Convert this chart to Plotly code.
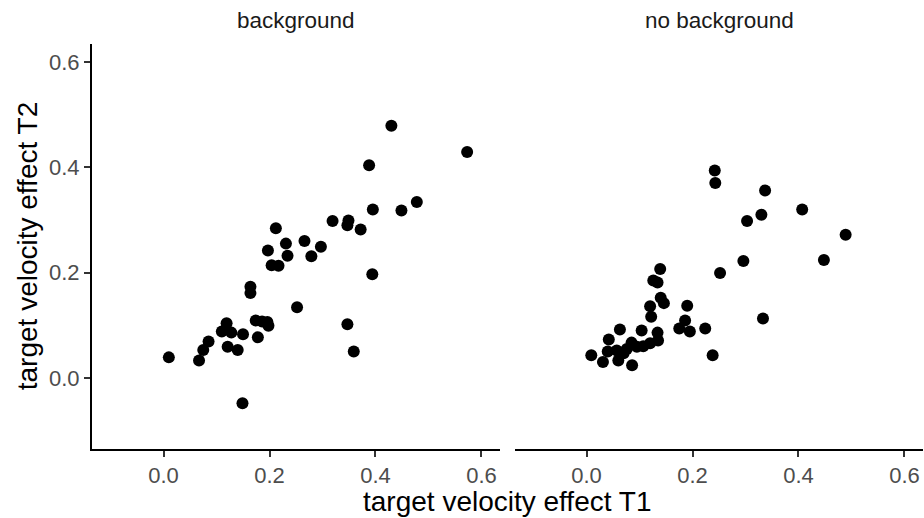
import plotly.graph_objects as go

# Panel "background"
bg_x = [0.430, 0.573, 0.388, 0.478, 0.395, 0.449, 0.319, 0.349, 0.347, 0.372,
        0.212, 0.231, 0.266, 0.297, 0.197, 0.234, 0.279, 0.204, 0.217, 0.394,
        0.164, 0.164, 0.252, 0.347, 0.359, 0.174, 0.186, 0.196, 0.198, 0.178,
        0.150, 0.119, 0.110, 0.128, 0.085, 0.075, 0.067, 0.010, 0.121, 0.140,
        0.149]
bg_y = [0.479, 0.429, 0.404, 0.334, 0.320, 0.318, 0.298, 0.299, 0.290, 0.282,
        0.284, 0.255, 0.260, 0.249, 0.242, 0.232, 0.231, 0.214, 0.213, 0.197,
        0.173, 0.161, 0.134, 0.102, 0.050, 0.109, 0.107, 0.106, 0.099, 0.077,
        0.083, 0.104, 0.088, 0.086, 0.069, 0.053, 0.033, 0.039, 0.059, 0.053,
        -0.048]

# Panel "no background"
nb_x = [0.242, 0.243, 0.337, 0.407, 0.330, 0.303, 0.489, 0.296, 0.448, 0.252,
        0.333, 0.238, 0.139, 0.126, 0.134, 0.140, 0.146, 0.120, 0.122, 0.190,
        0.186, 0.175, 0.195, 0.224, 0.063, 0.104, 0.134, 0.135, 0.042, 0.085,
        0.120, 0.107, 0.095, 0.076, 0.057, 0.040, 0.009, 0.031, 0.060, 0.086,
        0.070]
nb_y = [0.394, 0.370, 0.356, 0.320, 0.310, 0.298, 0.272, 0.222, 0.224, 0.199,
        0.113, 0.043, 0.207, 0.185, 0.181, 0.152, 0.142, 0.136, 0.116, 0.137,
        0.109, 0.094, 0.088, 0.094, 0.092, 0.090, 0.086, 0.071, 0.073, 0.067,
        0.066, 0.060, 0.059, 0.055, 0.052, 0.050, 0.043, 0.030, 0.033, 0.024,
        0.047]

panel_titles = ["background", "no background"]
tick_vals = [0.0, 0.2, 0.4, 0.6]
tick_text = ["0.0", "0.2", "0.4", "0.6"]
x_title = "target velocity effect T1"
y_title = "target velocity effect T2"

W, H = 924, 518
rng = [-0.135, 0.635]
L0, L1 = 92, 500      # left panel px
R0, R1 = 515, 923     # right panel px
T, B = 43.5, 449      # panel top/bottom px

fig = go.Figure()
marker = dict(color="black", size=12, line=dict(width=0))
fig.add_trace(go.Scatter(x=bg_x, y=bg_y, mode="markers", marker=marker,
                         xaxis="x", yaxis="y", showlegend=False, cliponaxis=False))
fig.add_trace(go.Scatter(x=nb_x, y=nb_y, mode="markers", marker=marker,
                         xaxis="x2", yaxis="y2", showlegend=False, cliponaxis=False))

font_fam = "Liberation Sans, Arial, sans-serif"
tickfont = dict(family=font_fam, size=22, color="#4D4D4D")

def xax(domain, anchor):
    return dict(domain=domain, range=rng, anchor=anchor, showgrid=False,
                zeroline=False, showline=True, linecolor="black", linewidth=2,
                ticks="outside", ticklen=6, tickwidth=2, tickcolor="#333333",
                tickvals=tick_vals, ticktext=tick_text, tickfont=tickfont)

ydom = [1 - B / H, 1 - T / H]
fig.update_layout(
    width=W, height=H,
    margin=dict(l=0, r=0, t=0, b=0),
    paper_bgcolor="white", plot_bgcolor="white",
    xaxis=xax([L0 / W, L1 / W], "y"),
    xaxis2=xax([R0 / W, R1 / W], "y2"),
    yaxis=dict(domain=ydom, range=rng, anchor="x", showgrid=False,
               zeroline=False, showline=True, linecolor="black", linewidth=2,
               ticks="outside", ticklen=6, tickwidth=2, tickcolor="#333333",
               tickvals=tick_vals, ticktext=tick_text, tickfont=tickfont),
    yaxis2=dict(domain=ydom, range=rng, anchor="x2", showgrid=False,
                zeroline=False, showline=False, showticklabels=False,
                ticks=""),
    font=dict(family=font_fam),
)

annotations = [
    dict(text=panel_titles[0], x=(L0 + L1) / 2 / W, y=1 - 20.5 / H,
         xref="paper", yref="paper", showarrow=False, xanchor="center",
         yanchor="middle", font=dict(family=font_fam, size=22.5, color="#1A1A1A")),
    dict(text=panel_titles[1], x=(R0 + R1) / 2 / W, y=1 - 20.5 / H,
         xref="paper", yref="paper", showarrow=False, xanchor="center",
         yanchor="middle", font=dict(family=font_fam, size=22.5, color="#1A1A1A")),
    dict(text=x_title, x=(L0 + R1) / 2 / W, y=1 - 501 / H,
         xref="paper", yref="paper", showarrow=False, xanchor="center",
         yanchor="middle", font=dict(family=font_fam, size=28, color="black")),
    dict(text=y_title, x=27 / W, y=1 - (T + B) / 2 / H, textangle=-90,
         xref="paper", yref="paper", showarrow=False, xanchor="center",
         yanchor="middle", font=dict(family=font_fam, size=28, color="black")),
]
fig.update_layout(annotations=annotations)

fig.write_html("out.html", config={"displayModeBar": False},
               post_script="document.body.style.margin='0';")
